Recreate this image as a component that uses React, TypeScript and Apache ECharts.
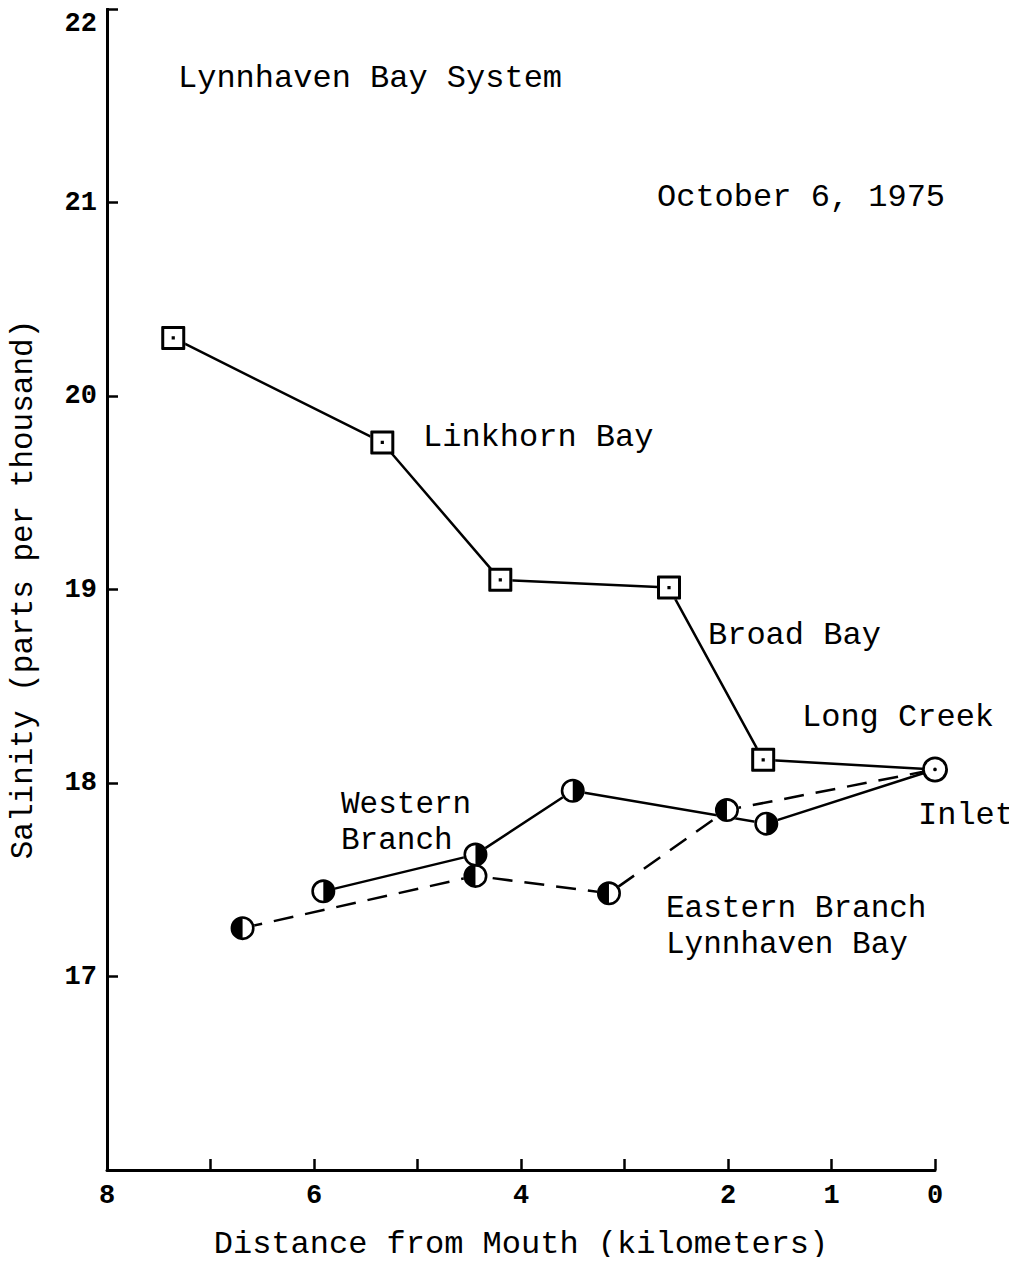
import React, { useEffect, useRef } from "react";
import * as echarts from "echarts";

// Distance from mouth (km) and salinity (ppt)
const linkhornX = [7.36, 5.34, 4.2, 2.57, 1.66, 0];
const linkhornY = [20.3, 19.76, 19.05, 19.01, 18.12, 18.07];
const westernX = [5.91, 4.44, 3.5, 1.63, 0];
const westernY = [17.44, 17.63, 17.96, 17.79, 18.07];
const easternX = [6.69, 4.44, 3.15, 2.01, 0];
const easternY = [17.25, 17.52, 17.43, 17.86, 18.07];
const inletX = [0];
const inletY = [18.07];
const xTickLabels = ["8", "6", "4", "2", "1", "0"];
const yTickLabels = ["17", "18", "19", "20", "21", "22"];

const FONT = "'Liberation Mono', 'Courier New', monospace";

const SQUARE_DOT =
  "path://M1 0 L23 0 Q24 0 24 1 L24 23 Q24 24 23 24 L1 24 Q0 24 0 23 L0 1 Q0 0 1 0 Z " +
  "M3 3 L3 21 L21 21 L21 3 Z M10.4 10.4 L13.6 10.4 L13.6 13.6 L10.4 13.6 Z";
const CIRCLE_DOT =
  "path://M12 0 A12 12 0 1 1 12 24 A12 12 0 1 1 12 0 Z " +
  "M12 2.6 A9.4 9.4 0 1 0 12 21.4 A9.4 9.4 0 1 0 12 2.6 Z " +
  "M12 10.3 A1.7 1.7 0 1 1 12 13.7 A1.7 1.7 0 1 1 12 10.3 Z";
const HALF_RIGHT =
  "path://M12 0 A12 12 0 1 1 12 24 A12 12 0 1 1 12 0 Z " +
  "M12 2.6 A9.4 9.4 0 0 0 12 21.4 L12 2.6 Z";
const HALF_LEFT =
  "path://M12 0 A12 12 0 1 1 12 24 A12 12 0 1 1 12 0 Z " +
  "M12 2.6 L12 21.4 A9.4 9.4 0 0 0 12 2.6 Z";

function pts(xs: number[], ys: number[]) {
  return xs.map((x, i) => [x, ys[i]]);
}

export default function App() {
  const ref = useRef<HTMLDivElement>(null);
  useEffect(() => {
    if (!ref.current) return;
    const chart = echarts.init(ref.current, undefined, { renderer: "svg" });
    const lineBase = {
      type: "line" as const,
      showSymbol: false,
      symbol: "none",
      z: 2,
      silent: true,
    };
    const whiteBg = (data: number[][], sym: string, size: number) => ({
      type: "scatter" as const,
      data,
      symbol: sym,
      symbolSize: size,
      itemStyle: { color: "#fff", opacity: 1 },
      z: 3,
      silent: true,
    });
    const blackSym = (data: number[][], sym: string, size: number) => ({
      type: "scatter" as const,
      data,
      symbol: sym,
      symbolSize: size,
      symbolKeepAspect: true,
      itemStyle: { color: "#000", opacity: 1 },
      z: 4,
      silent: true,
    });
    const text = (t: string, x: number, y: number, size = 32) => ({
      type: "text",
      x,
      y,
      style: {
        text: t,
        font: `${size}px ${FONT}`,
        fill: "#000",
        textAlign: "left",
        textVerticalAlign: "middle",
      },
      z: 10,
    });
    const lk = pts(linkhornX, linkhornY);
    const wb = pts(westernX, westernY);
    const eb = pts(easternX, easternY);
    const il = pts(inletX, inletY);
    chart.setOption({
      animation: false,
      backgroundColor: "#fff",
      grid: { left: 107, right: 82, top: 9, bottom: 93, containLabel: false },
      xAxis: {
        type: "value",
        inverse: true,
        min: 0,
        max: 8,
        interval: 1,
        position: "bottom",
        name: "Distance from Mouth (kilometers)",
        nameLocation: "middle",
        nameGap: 58,
        nameTextStyle: { fontFamily: FONT, fontSize: 32, color: "#000" },
        axisLine: { onZero: false, lineStyle: { color: "#000", width: 3 } },
        axisTick: { inside: true, length: 11, lineStyle: { color: "#000", width: 2.5 } },
        splitLine: { show: false },
        axisLabel: {
          margin: 12,
          fontFamily: FONT,
          fontWeight: "bold",
          fontSize: 27,
          color: "#000",
          formatter: (v: number) => (xTickLabels.includes(String(v)) ? String(v) : ""),
        },
      },
      yAxis: {
        type: "value",
        min: 16,
        max: 22,
        interval: 1,
        position: "left",
        name: "Salinity (parts per thousand)",
        nameLocation: "middle",
        nameGap: 68,
        nameTextStyle: { fontFamily: FONT, fontSize: 31, color: "#000" },
        axisLine: { onZero: false, lineStyle: { color: "#000", width: 3 } },
        axisTick: { inside: true, length: 11, lineStyle: { color: "#000", width: 2.5 } },
        splitLine: { show: false },
        axisLabel: {
          margin: 10,
          fontFamily: FONT,
          fontWeight: "bold",
          fontSize: 27,
          color: "#000",
          formatter: (v: number) => {
            const s = String(v);
            if (!yTickLabels.includes(s)) return "";
            return s === "22" ? "{t|22}" : s;
          },
          rich: {
            t: {
              fontFamily: FONT,
              fontWeight: "bold",
              fontSize: 27,
              color: "#000",
              padding: [30, 0, 0, 0],
            },
          },
        },
      },
      series: [
        { ...lineBase, data: lk, lineStyle: { color: "#000", width: 2.5, type: "solid" } },
        { ...lineBase, data: wb, lineStyle: { color: "#000", width: 2.5, type: "solid" } },
        { ...lineBase, data: eb, lineStyle: { color: "#000", width: 2.5, type: [20, 12] } },
        whiteBg(lk.slice(0, lk.length - 1), "roundRect", 24),
        whiteBg(wb.slice(0, wb.length - 1), "circle", 24),
        whiteBg(eb.slice(0, eb.length - 1), "circle", 24),
        whiteBg(il, "circle", 24),
        blackSym(lk.slice(0, lk.length - 1), SQUARE_DOT, 24),
        blackSym(wb.slice(0, wb.length - 1), HALF_RIGHT, 24),
        blackSym(eb.slice(0, eb.length - 1), HALF_LEFT, 24),
        blackSym(il, CIRCLE_DOT, 26),
      ],
      graphic: [
        text("Lynnhaven Bay System", 178, 78),
        text("October 6, 1975", 657, 197),
        text("Linkhorn Bay", 423, 437),
        text("Broad Bay", 708, 635),
        text("Long Creek", 802, 717),
        text("Western", 341, 804, 31),
        text("Branch", 341, 840, 31),
        text("Inlet", 918, 815),
        text("Eastern Branch", 666, 908, 31),
        text("Lynnhaven Bay", 666, 944, 31),
      ],
    });
    return () => chart.dispose();
  }, []);
  return <div ref={ref} style={{ width: 1017, height: 1265, margin: -8 }} />;
}
